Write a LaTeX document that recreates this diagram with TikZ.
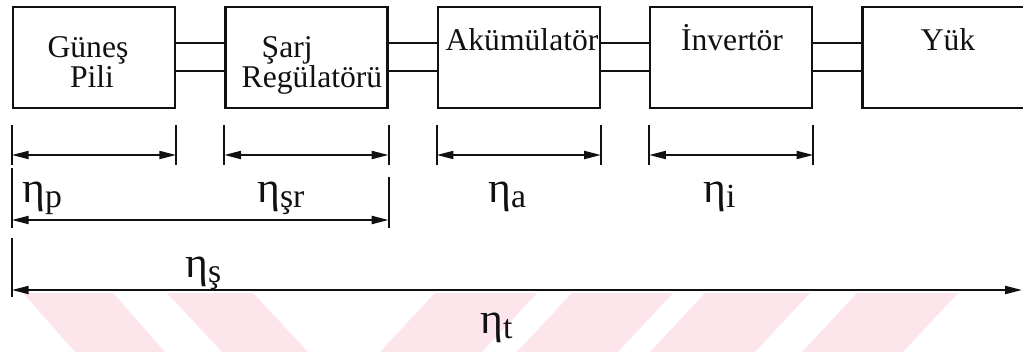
\documentclass[tikz,border=0pt]{standalone}
\usepackage{fontspec}
\setmainfont{Liberation Serif}
\usepackage{tikz}
\usetikzlibrary{arrows.meta,calc}
\usepackage{xcolor}
\definecolor{ink}{HTML}{111111}
\definecolor{filigran}{HTML}{FCE6EB}
\tikzset{blok/.style={draw=ink,line width=1.6pt,minimum width=4.05cm,minimum height=2.525cm,inner sep=0pt}}
\newcommand{\altind}[1]{\raisebox{-0.12em}{\fontsize{24}{24}\selectfont #1}}

\begin{document}
\begin{tikzpicture}[
      yazi/.style={font=\fontsize{22.5}{20}\selectfont, text=ink, inner sep=0pt, anchor=base},
      hat/.style={draw=ink, line width=1.4pt},
      olcu/.style={hat, {Triangle[length=0.42cm,width=0.2cm]}-{Triangle[length=0.42cm,width=0.2cm]}},
      verim/.style={font=\fontsize{31}{32}\selectfont, text=ink, inner sep=0pt, anchor=base west}]
    \clip (0,0) rectangle (25.575,-8.8);
    \fill[white] (0,0) rectangle (25.575,-8.8);
    \foreach \a/\b/\d in {0.575/2.825/1.3, 4.175/6.325/1.375, 10.875/13.425/-1.375,
                          14.3/16.825/-1.375, 17.625/20.25/-1.375, 21.425/23.95/-1.375}
      \fill[filigran] (\a,-7.325) -- (\b,-7.325) -- ({\b+\d},-8.8) -- ({\a+\d},-8.8) -- cycle;
    \node[blok] (gunes) at (2.35,-1.44) {};
    \node[blok] (sarj) at (7.66,-1.44) {};
    \node[blok] (aku) at (12.97,-1.44) {};
    \node[blok] (inv) at (18.28,-1.44) {};
    \node[blok] (yuk) at (23.59,-1.44) {};
    \foreach \ad/\x/\y/\t in {gunesA/2.2/-1.43/Güneş, gunesB/2.3/-2.19/Pili, sarjA/7.18/-1.43/Şarj,
        sarjB/7.8/-2.19/Regülatörü, akuA/13.05/-1.25/Akümülatör, invA/18.3/-1.25/İnvertör, yukA/23.7/-1.25/Yük}
      \node[yazi] (\ad) at (\x,\y) {\t};
    \foreach \p/\q in {gunes/sarj, sarj/aku, aku/inv, inv/yuk}{%
      \draw[hat] ([yshift=0.36cm]\p.east) -- ([yshift=0.36cm]\q.west);
      \draw[hat] ([yshift=-0.34cm]\p.east) -- ([yshift=-0.34cm]\q.west);}
    \foreach \b in {gunes, sarj, aku, inv}{%
      \draw[hat] (\b.south west |- 0,-3.125) -- (\b.south west |- 0,-4.125)
                 (\b.south east |- 0,-3.125) -- (\b.south east |- 0,-4.125);
      \draw[olcu] (\b.south west |- 0,-3.875) -- (\b.south east |- 0,-3.875);}
    \draw[hat] (gunes.south west |- 0,-4.2) -- (gunes.south west |- 0,-5.7);
    \draw[hat] (sarj.south east |- 0,-4.425) -- (sarj.south east |- 0,-5.7);
    \draw[olcu] (gunes.south west |- 0,-5.5) -- (sarj.south east |- 0,-5.5);
    \coordinate (sag) at (25.55,-7.25);
    \draw[hat] (gunes.south west |- 0,-5.95) -- (gunes.south west |- 0,-7.425);
    \draw[olcu] (gunes.south west |- 0,-7.25) -- (sag);
    \node[verim] (etaP) at (0.55,-5.05) {η\altind{p}};
    \node[verim] (etaSR) at (6.425,-5.05) {η\altind{şr}};
    \node[verim] (etaA) at (12.2,-5.05) {η\altind{a}};
    \node[verim] (etaI) at (17.575,-5.05) {η\altind{i}};
    \node[verim] (etaS) at (4.625,-6.925) {η\altind{ş}};
    \node[verim] (etaT) at (12.0,-8.33) {η\altind{t}};
  \end{tikzpicture}
\end{document}
